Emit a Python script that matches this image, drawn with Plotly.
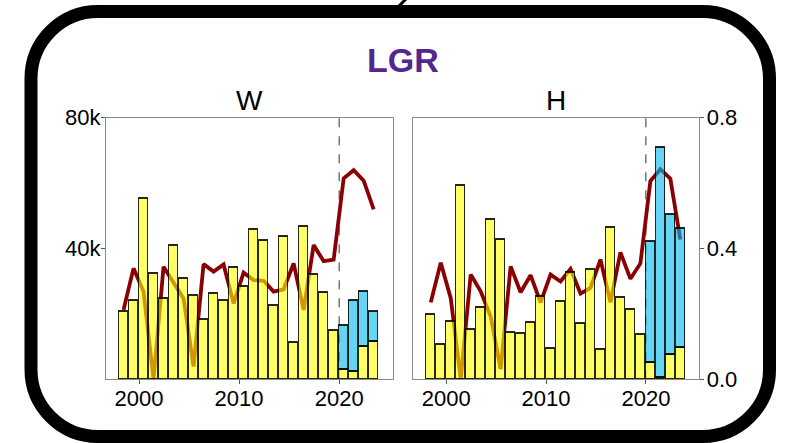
import plotly.graph_objects as go

# ---------------- data ----------------
years = list(range(1998, 2024))
proj_years = [2020, 2021, 2022, 2023]

w_yellow = [20.8, 24.0, 55.4, 32.3, 24.7, 40.8, 30.8, 25.5, 18.3, 26.3, 24.0, 34.2, 28.4,
            45.9, 42.4, 22.6, 43.6, 11.3, 46.7, 31.9, 26.5, 14.8, 2.9, 2.3, 10.1, 11.7]
w_blue = [13.4, 21.7, 16.8, 9.1]
w_line = [0.212, 0.339, 0.268, 0.0, 0.344, 0.293, 0.247, 0.039, 0.352, 0.329, 0.351, 0.232, 0.326,
          0.303, 0.301, 0.268, 0.275, 0.354, 0.212, 0.410, 0.361, 0.366, 0.614, 0.639, 0.607, 0.519]

h_yellow = [19.8, 10.6, 17.8, 59.1, 15.1, 21.9, 48.9, 42.8, 14.2, 14.0, 17.4, 25.4, 9.4,
            23.7, 32.7, 17.1, 33.5, 9.1, 46.3, 25.0, 21.4, 13.7, 5.1, 0.7, 7.5, 9.7]
h_blue = [36.9, 70.0, 43.0, 36.5]
h_line = [0.235, 0.356, 0.248, 0.0, 0.320, 0.269, 0.192, 0.031, 0.345, 0.266, 0.318, 0.235, 0.320,
          0.299, 0.337, 0.262, 0.279, 0.366, 0.235, 0.388, 0.307, 0.354, 0.606, 0.642, 0.613, 0.427]

panel_titles = ["W", "H"]
main_title = "LGR"
x_ticks = [2000, 2010, 2020]
left_ticks = [40000, 80000]
left_ticktext = ["40k", "80k"]
right_ticks = [0.0, 0.4, 0.8]
right_ticktext = ["0.0", "0.4", "0.8"]
split_year = 2020

# ---------------- style ----------------
W, H = 787, 443
FONT = "Liberation Sans, Arial, sans-serif"
YEL = "rgba(255,255,0,0.6)"
BLU = "rgba(0,183,235,0.6)"
RED = "#8B0000"
EDGE = "rgba(0,0,0,0.85)"
BW = 0.9


def px(x):
    return x / W


def py(y):
    return 1 - y / H


x_dom = [[px(106), px(392.7)], [px(413.3), px(699.3)]]
y_dom = [py(379.3), py(117.5)]
x_range = [1996.7, 2025.35]

fig = go.Figure()

panels = [(w_yellow, w_blue, w_line), (h_yellow, h_blue, h_line)]
for i, (yel, blu, ln) in enumerate(panels):
    xa = "x" if i == 0 else "x2"
    ya_line = "y" if i == 0 else "y2"
    ya_bar = "y3" if i == 0 else "y4"
    fig.add_trace(go.Scatter(
        x=[yr + BW / 2 for yr in years], y=ln, mode="lines",
        line=dict(color=RED, width=3.8), xaxis=xa, yaxis=ya_line,
        showlegend=False, hoverinfo="skip"))
    fig.add_trace(go.Bar(
        x=years, y=[v * 1000 for v in yel], width=BW, offset=0,
        marker=dict(color=YEL, line=dict(color=EDGE, width=1.1)),
        xaxis=xa, yaxis=ya_bar, showlegend=False))
    fig.add_trace(go.Bar(
        x=proj_years, y=[v * 1000 for v in blu], width=BW, offset=0,
        marker=dict(color=BLU, line=dict(color=EDGE, width=1.1)),
        xaxis=xa, yaxis=ya_bar, showlegend=False))

axis_common = dict(showgrid=False, zeroline=False, showline=True, linecolor="#8a8a8a",
                   linewidth=1, mirror=True, automargin=False,
                   tickfont=dict(family=FONT, size=22, color="black"))

for i in range(2):
    key = "xaxis" if i == 0 else "xaxis2"
    fig.layout[key] = dict(domain=x_dom[i], range=x_range, anchor="y" if i == 0 else "y2",
                           tickvals=x_ticks, ticks="outside", ticklen=4, tickcolor="#555",
                           ticklabelstandoff=-5, **axis_common)

fig.layout["yaxis"] = dict(domain=y_dom, range=[0, 0.8], anchor="x", showticklabels=False,
                           ticks="", **axis_common)
fig.layout["yaxis2"] = dict(domain=y_dom, range=[0, 0.8], anchor="x2", side="right",
                            tickvals=right_ticks, ticktext=right_ticktext, ticks="outside",
                            ticklen=4, tickcolor="#555", ticklabelstandoff=-2, **axis_common)
fig.layout["yaxis3"] = dict(overlaying="y", range=[0, 80000], anchor="x", side="left",
                            tickvals=left_ticks, ticktext=left_ticktext, ticks="outside",
                            ticklen=4, tickcolor="#555", showgrid=False, zeroline=False,
                            showline=False, automargin=False, ticklabelstandoff=-4,
                            tickfont=dict(family=FONT, size=22, color="black"))
fig.layout["yaxis4"] = dict(overlaying="y2", range=[0, 80000], anchor="x2",
                            showticklabels=False, ticks="", showgrid=False, zeroline=False,
                            showline=False, automargin=False)

shapes = []
for i in range(2):
    shapes.append(dict(type="line", xref="x" if i == 0 else "x2", yref="y" if i == 0 else "y2",
                       x0=split_year, x1=split_year, y0=0, y1=0.8,
                       line=dict(color="#333", width=1, dash="dash"), layer="below"))

# rounded frame
x0, x1, y0, y1, r = 31, 769.5, 11.5, 436.5, 67
k = 0.5523 * r
pts = [
    ("M", [(x0 + r, y0)]),
    ("L", [(x1 - r, y0)]),
    ("C", [(x1 - r + k, y0), (x1, y0 + r - k), (x1, y0 + r)]),
    ("L", [(x1, y1 - r)]),
    ("C", [(x1, y1 - r + k), (x1 - r + k, y1), (x1 - r, y1)]),
    ("L", [(x0 + r, y1)]),
    ("C", [(x0 + r - k, y1), (x0, y1 - r + k), (x0, y1 - r)]),
    ("L", [(x0, y0 + r)]),
    ("C", [(x0, y0 + r - k), (x0 + r - k, y0), (x0 + r, y0)]),
]
path = ""
for cmd, cs in pts:
    path += cmd + " " + " ".join(f"{px(a):.5f},{py(b):.5f}" for a, b in cs) + " "
path += "Z"
shapes.append(dict(type="path", xref="paper", yref="paper", path=path,
                   line=dict(color="black", width=13), fillcolor="rgba(0,0,0,0)"))
shapes.append(dict(type="line", xref="paper", yref="paper", x0=px(399), y0=py(6),
                   x1=px(406), y1=py(-1), line=dict(color="black", width=3)))

annotations = [
    dict(text=f"<b>{main_title}</b>", x=px(402.5), y=py(59.5), xref="paper", yref="paper",
         showarrow=False, xanchor="center", yanchor="middle",
         font=dict(family=FONT, size=34, color="#54278F")),
    dict(text=panel_titles[0], x=px(249.4), y=py(101), xref="paper", yref="paper",
         showarrow=False, xanchor="center", yanchor="middle",
         font=dict(family=FONT, size=28, color="black")),
    dict(text=panel_titles[1], x=px(556.3), y=py(101), xref="paper", yref="paper",
         showarrow=False, xanchor="center", yanchor="middle",
         font=dict(family=FONT, size=28, color="black")),
]

fig.update_layout(width=W, height=H, autosize=False, barmode="stack", bargap=0,
                  margin=dict(l=0, r=0, t=0, b=0), paper_bgcolor="white",
                  plot_bgcolor="rgba(0,0,0,0)", shapes=shapes, annotations=annotations,
                  font=dict(family=FONT))

fig.write_html("out.html", config={"displayModeBar": False},
               post_script="document.body.style.margin='0';document.body.style.overflow='hidden';")
